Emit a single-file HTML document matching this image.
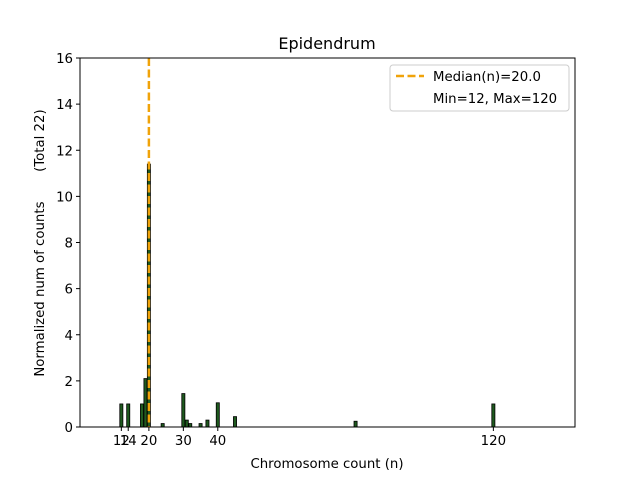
<!DOCTYPE html>
<html><head><meta charset="utf-8"><style>
body{margin:0;background:#fff;font-family:"Liberation Sans","DejaVu Sans",sans-serif}
svg text{font-family:"DejaVu Sans","Liberation Sans",sans-serif}
</style></head><body>
<svg id="chart" width="640" height="480">
<g id="plot"></g>
</svg>
<script>
const categories=[12,14,18,19,20,24,30,31,32,35,37,40,45,80,120];
const values=[1,1,1,2.1,11.4,0.15,1.45,0.3,0.15,0.15,0.3,1.05,0.45,0.25,1];
const xTicks=[12,14,20,30,40,120];
const yTicks=[0,2,4,6,8,10,12,14,16];
const median=20;
const L=80,R=575,T=58,B=427,xmin=0,xmax=143.7,ymin=0,ymax=16;
const sx=v=>L+(v-xmin)/(xmax-xmin)*(R-L);
const sy=v=>B-(v-ymin)/(ymax-ymin)*(B-T);
const NS="http://www.w3.org/2000/svg";
const svg=document.getElementById('chart');
function mk(t,a,txt){const e=document.createElementNS(NS,t);for(const k in a)e.setAttribute(k,a[k]);if(txt!=null)e.textContent=txt;svg.appendChild(e);return e;}
categories.forEach((c,i)=>{
 const bw=sx(0.9)-sx(0);
 const r=mk('rect',{x:sx(c)-bw/2,y:sy(values[i]),width:bw,height:sy(0)-sy(values[i]),fill:'#1f5a1f',stroke:'#000','stroke-width':0.8});
 
 
});
const ml=mk('line',{x1:sx(median),x2:sx(median),y1:T,y2:B,stroke:'#f0a30a','stroke-width':2.5,'stroke-dasharray':'8,3.5'});


const fr=mk('rect',{x:L,y:T,width:R-L,height:B-T,fill:'none',stroke:'#000','stroke-width':1});


xTicks.forEach(t=>{
 mk('line',{x1:sx(t),x2:sx(t),y1:B,y2:B+4,stroke:'#000'});
 const tx=mk('text',{x:sx(t),y:B+18,'font-size':13.3,'text-anchor':'middle'},t);
 
 
});
yTicks.forEach(t=>{
 mk('line',{x1:L-4,x2:L,y1:sy(t),y2:sy(t),stroke:'#000'});
 const tx=mk('text',{x:L-7,y:sy(t)+5,'font-size':13.3,'text-anchor':'end'},t);
 
 
});
</script>
<svg width="640" height="480" style="position:absolute;left:0;top:0">
<text x="327" y="49" font-size="16" text-anchor="middle">Epidendrum</text>
<text x="327" y="468" font-size="13.3" text-anchor="middle">Chromosome count (n)</text>
<text transform="translate(44,243) rotate(-90)" font-size="13.3" text-anchor="middle" style="white-space:pre">Normalized num of counts       (Total 22)</text>
<g>
<rect x="390" y="65" width="179" height="46" rx="3" fill="#fff" stroke="#ccc"/>
<line x1="396" y1="76" x2="424" y2="76" stroke="#f0a30a" stroke-width="2.5" stroke-dasharray="8,3.5"/>
<text x="433" y="81" font-size="13.3">Median(n)=20.0</text>
<text x="433" y="103" font-size="13.3">Min=12, Max=120</text>
</g>
</svg>
</body></html>
